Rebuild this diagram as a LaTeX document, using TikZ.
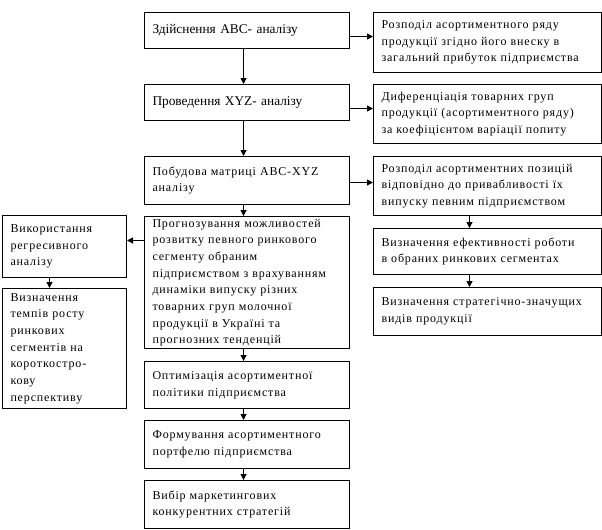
\documentclass[tikz,border=0pt]{standalone}
\usepackage{fontspec}
\setmainfont{Liberation Serif}
\newfontfamily\spaced[LetterSpace=7]{Liberation Serif}
\usetikzlibrary{arrows.meta}
\newdimen\px \px=0.75pt
\tikzset{
  bx/.style={draw, line width=0.75pt, anchor=north west, inner xsep=6pt, inner ysep=0pt, align=left, font=\spaced\fontsize{9pt}{12.5pt}\selectfont},
  big/.style={font=\rmfamily\fontsize{10pt}{13pt}\selectfont},
  arr/.style={line width=0.75pt, -{Triangle[length=4.5pt,width=4.5pt]}}
}
\begin{document}
\begin{tikzpicture}[x=0.75pt,y=-0.75pt]
\useasboundingbox (0,0) rectangle (602,529);
% centre column
\node[bx,big,text width=189\px,minimum width=205\px,minimum height=36\px] (b1) at (144,12) {Здійснення ABC- аналізу};
\node[bx,big,text width=189\px,minimum width=205\px,minimum height=36\px] (b2) at (144,84) {Проведення XYZ- аналізу};
\node[bx,text width=189\px,minimum width=205\px,minimum height=48\px] (b3) at (144,156) {Побудова матриці ABC-XYZ\\ аналізу};
\node[bx,text width=189\px,minimum width=205\px,minimum height=132\px] (b4) at (144,216) {Прогнозування можливостей\\ розвитку певного ринкового\\ сегменту обраним\\ підприємством з врахуванням\\ динаміки випуску різних\\ товарних груп молочної\\ продукції в  Україні та\\ прогнозних тенденцій};
\node[bx,text width=189\px,minimum width=205\px,minimum height=47\px] (b5) at (144,361) {Оптимізація асортиментної\\ політики підприємства};
\node[bx,text width=189\px,minimum width=205\px,minimum height=48\px] (b6) at (144,420) {Формування асортиментного\\ портфелю підприємства};
\node[bx,text width=189\px,minimum width=205\px,minimum height=48\px] (b7) at (144,480) {Вибір маркетингових\\ конкурентних стратегій};
% right column
\node[bx,text width=212\px,minimum width=228\px,minimum height=60\px] (r1) at (373,12) {Розподіл асортиментного ряду\\ продукції згідно його внеску в\\ загальний прибуток підприємства};
\node[bx,text width=212\px,minimum width=228\px,minimum height=59\px] (r2) at (373,84) {Диференціація товарних груп\\ продукції (асортиментного ряду)\\ за коефіцієнтом варіації попиту};
\node[bx,text width=212\px,minimum width=228\px,minimum height=59\px] (r3) at (373,156) {Розподіл асортиментних позицій\\ відповідно до привабливості їх\\ випуску певним підприємством};
\node[bx,text width=212\px,minimum width=228\px,minimum height=46\px] (r4) at (373,228) {Визначення ефективності  роботи\\ в обраних ринкових  сегментах};
\node[bx,text width=212\px,minimum width=228\px,minimum height=48\px] (r5) at (373,287) {Визначення стратегічно-значущих\\ видів продукції};
% left column
\node[bx,text width=108\px,minimum width=124\px,minimum height=62\px] (l1) at (2,215) {Використання\\ регресивного\\ аналізу};
\node[bx,text width=108\px,minimum width=124\px,minimum height=120\px] (l2) at (2,288) {Визначення\\ темпів росту\\ ринкових\\ сегментів на\\ короткостро-\\ кову\\ перспективу};
% vertical arrows
\foreach \from/\to in {b1/b2,b2/b3,b3/b4,b4/b5,b5/b6,b6/b7}
  \draw[arr] ([xshift=-2.6pt]\from.south) -- ([xshift=-2.6pt]\to.north);
\foreach \from/\to in {r3/r4,r4/r5}
  \draw[arr] ([xshift=-13.5pt]\from.south) -- ([xshift=-13.5pt]\to.north);
\draw[arr] ([xshift=-11.25pt]l1.south) -- ([xshift=-11.25pt]l2.north);
% horizontal arrows
\draw[arr] ([yshift=-4.5pt]b1.east) -- ([yshift=-4.5pt]b1.east -| r1.west);
\draw[arr] ([yshift=-4.5pt]b2.east) -- ([yshift=-4.5pt]b2.east -| r2.west);
\draw[arr] ([yshift=-1.5pt]b3.east) -- ([yshift=-1.5pt]b3.east -| r3.west);
\draw[arr] ([yshift=4.5pt]l1.east -| b4.west) -- ([yshift=4.5pt]l1.east);
\end{tikzpicture}
\end{document}
